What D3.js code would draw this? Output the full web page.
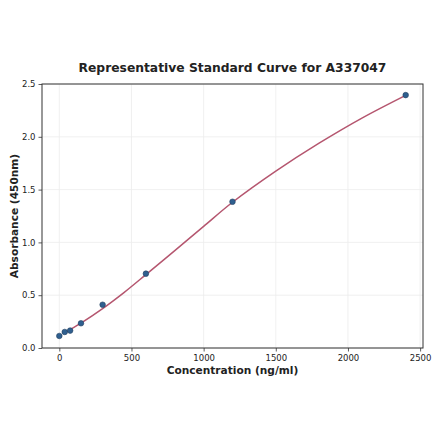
<!DOCTYPE html>
<html>
<head>
<meta charset="utf-8">
<script src="https://cdn.jsdelivr.net/npm/d3@7"></script>
<style>
  body { margin: 0; background: #fff; }
  svg text { font-family: "DejaVu Sans", sans-serif; fill: #222; }
</style>
</head>
<body>
<div id="chart"></div>
<script>
// standards
const concentration = [0, 37.5, 75, 150, 300, 600, 1200, 2400];
const absorbance = [0.114, 0.152, 0.165, 0.234, 0.41, 0.704, 1.385, 2.395];

// fitted curve
const fitConc = [37.5, 75, 150, 300, 450, 600, 800, 1000, 1200, 1500, 1800, 2100, 2400];
const fitAbs = [0.143, 0.175, 0.236, 0.373, 0.527, 0.695, 0.922, 1.152, 1.38, 1.675, 1.94, 2.18, 2.393];

const xTicks = [0, 500, 1000, 1500, 2000, 2500];
const yTicks = [0.0, 0.5, 1.0, 1.5, 2.0, 2.5];

const width = 440;
const height = 441;
const margin = { top: 84, right: 17, bottom: 93, left: 42 };

const svg = d3.select('#chart')
    .append('svg')
    .attr('width', width)
    .attr('height', height);

const x = d3.scaleLinear().domain([-120, 2520]).range([margin.left, width - margin.right]);
const y = d3.scaleLinear().domain([0, 2.5]).range([height - margin.bottom, margin.top]);

// grid
svg.append('g')
    .selectAll('line.vgrid')
    .data(xTicks.filter(d => d < 2520))
    .join('line')
    .attr('x1', d => x(d)).attr('x2', d => x(d))
    .attr('y1', y(0)).attr('y2', y(2.5))
    .attr('stroke', '#ececec').attr('stroke-width', 0.8);

svg.append('g')
    .selectAll('line.hgrid')
    .data(yTicks)
    .join('line')
    .attr('x1', x(-120)).attr('x2', x(2520))
    .attr('y1', d => y(d)).attr('y2', d => y(d))
    .attr('stroke', '#ececec').attr('stroke-width', 0.8);

// axes
const xAxis = d3.axisBottom(x).tickValues(xTicks).tickSize(3.5).tickPadding(3).tickFormat(d3.format('d'));
const yAxis = d3.axisLeft(y).tickValues(yTicks).tickSize(3.5).tickPadding(3).tickFormat(d3.format('.1f'));

const gx = svg.append('g')
    .attr('transform', `translate(0, ${height - margin.bottom})`)
    .call(xAxis);
const gy = svg.append('g')
    .attr('transform', `translate(${margin.left}, 0)`)
    .call(yAxis);

[gx, gy].forEach(g => {
    g.select('.domain').remove();
    g.selectAll('.tick line').attr('stroke', '#333').attr('stroke-width', 0.8);
    g.selectAll('.tick text').style('font-size', '8.5px').attr('fill', '#222');
});

// frame
svg.append('rect')
    .attr('x', x(-120)).attr('y', y(2.5))
    .attr('width', x(2520) - x(-120))
    .attr('height', y(0) - y(2.5))
    .attr('fill', 'none')
    .attr('stroke', '#333')
    .attr('stroke-width', 1);

// fitted curve
const fit = fitConc.map((c, i) => ({ c: c, a: fitAbs[i] }));
const line = d3.line()
    .curve(d3.curveCatmullRom)
    .x(d => x(d.c))
    .y(d => y(d.a));

svg.append('path')
    .datum(fit)
    .attr('d', line)
    .attr('fill', 'none')
    .attr('stroke', '#b5566f')
    .attr('stroke-width', 1.5);

// points
svg.append('g')
    .selectAll('circle')
    .data(concentration.map((c, i) => ({ c: c, a: absorbance[i] })))
    .join('circle')
    .attr('cx', d => x(d.c))
    .attr('cy', d => y(d.a))
    .attr('r', 2.8)
    .attr('fill', '#2f5f8f')
    .attr('stroke', '#23405f')
    .attr('stroke-width', 0.6);

// titles
svg.append('text')
    .attr('x', (x(-120) + x(2520)) / 2)
    .attr('y', 72)
    .attr('text-anchor', 'middle')
    .style('font-size', '12.3px')
    .style('font-weight', 'bold')
    .text('Representative Standard Curve for A337047');

svg.append('text')
    .attr('x', (x(-120) + x(2520)) / 2)
    .attr('y', 374)
    .attr('text-anchor', 'middle')
    .style('font-size', '10.6px')
    .style('font-weight', 'bold')
    .text('Concentration (ng/ml)');

svg.append('text')
    .attr('transform', `translate(18, ${(y(0) + y(2.5)) / 2}) rotate(-90)`)
    .attr('text-anchor', 'middle')
    .style('font-size', '10.6px')
    .style('font-weight', 'bold')
    .text('Absorbance (450nm)');
</script>
</body>
</html>
